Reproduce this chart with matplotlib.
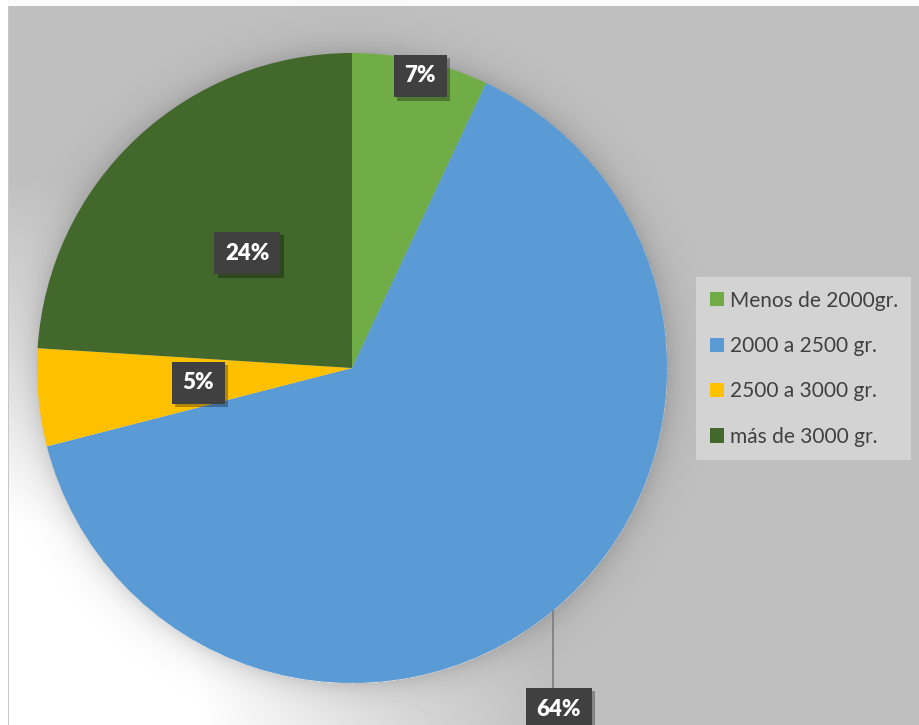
import numpy as np
import matplotlib
matplotlib.use('Agg')
import matplotlib.pyplot as plt
import matplotlib.patheffects as pe

# Birth weight groups and their share (%)
labels = ['Menos de 2000gr.', '2000 a 2500 gr.', '2500 a 3000 gr.', 'más de 3000 gr.']
values = [7, 64, 5, 24]
colors = ['#70ad47', '#5b9bd5', '#ffc000', '#43682b']

W, H = 919, 725
cx, cy, R = 352, H - 368, 315


def make_background():
    # Gray panel, white glow from the lower-left corner, soft shadow round the pie
    yy, xx = np.mgrid[0:H, 0:W]
    d_corner = np.hypot(xx, yy - H)
    t = np.clip((d_corner - 200) / 350, 0, 1)
    bg = 255 - 64 * t
    d_pie = np.hypot(xx - cx, yy - (H - cy))
    shade = np.where(d_pie > R, 1 - 0.14 * np.exp(-(d_pie - R) / 14), 1)
    bg = bg * shade
    bg[:6, :] = 250
    bg[:, :8] = 255
    bg[6:, 8] = 200
    return bg


def box_label(ax, x, y, text):
    t = ax.text(x, y, text, ha='center', va='center', fontsize=16, fontweight='heavy',
                family='Lato', color='white',
                bbox=dict(boxstyle='square,pad=0.48', facecolor='#404040', edgecolor='none'),
                zorder=5)
    t.get_bbox_patch().set_path_effects(
        [pe.SimplePatchShadow(offset=(2.5, -2.5), shadow_rgbFace='black', alpha=0.3), pe.Normal()])
    return t


fig = plt.figure(figsize=(W / 100, H / 100), dpi=100)
ax = fig.add_axes([0, 0, 1, 1])

ax.imshow(make_background(), cmap='gray', vmin=0, vmax=255, extent=(0, W, 0, H),
          origin='upper', interpolation='bilinear', zorder=0)

wedges, _ = ax.pie(values, colors=colors, startangle=90, counterclock=False,
                   center=(cx, cy), radius=R, wedgeprops=dict(linewidth=0))

# Data labels: inside for three slices, outside with a leader for the big one
label_dist = [0.95, None, 0.5, 0.5]
for w, v, dist in zip(wedges, values, label_dist):
    mid = np.deg2rad((w.theta1 + w.theta2) / 2)
    if dist is None:
        ex = cx + R * np.cos(mid)
        ey = cy + R * np.sin(mid)
        ly = 16
        ax.plot([ex, ex], [ey, ly + 20], color='#808080', linewidth=1.3, zorder=3)
        box_label(ax, ex + 6, ly, f'{v}%')
    else:
        box_label(ax, cx + dist * R * np.cos(mid) + 3, cy + dist * R * np.sin(mid), f'{v}%')

ax.set_xlim(0, W)
ax.set_ylim(0, H)
ax.set_aspect('equal')
ax.axis('off')

leg = ax.legend(wedges, labels, loc='upper left', bbox_to_anchor=(696 / W, 1 - 277 / H),
                bbox_transform=fig.transFigure, borderaxespad=0, frameon=True,
                fancybox=False, facecolor='#d3d3d3', edgecolor='none', framealpha=1,
                prop=dict(family='Lato', size=15), labelcolor='#404040',
                handlelength=0.67, handleheight=0.67, handletextpad=0.3,
                labelspacing=1.22, borderpad=0.65)

plt.savefig('out.png', dpi=100)
plt.close()
